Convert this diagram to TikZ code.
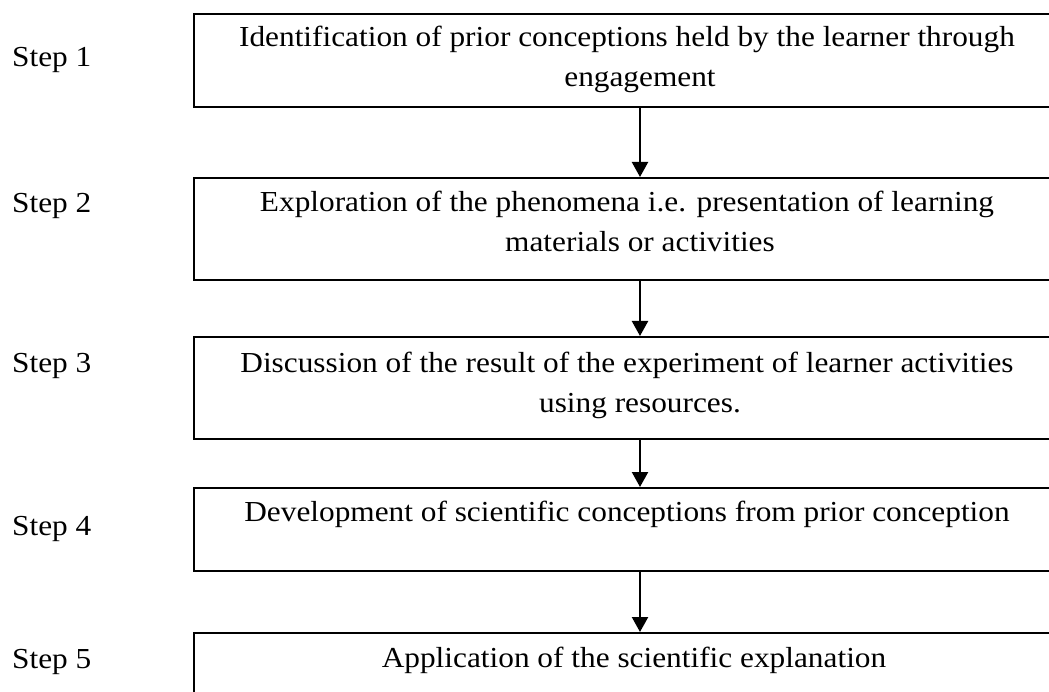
\documentclass[tikz,border=0pt]{standalone}
\usepackage{fontspec}
\setmainfont{Liberation Serif}[FakeStretch=1.08]
\usetikzlibrary{arrows.meta}
\begin{document}
\begin{tikzpicture}[x=1pt,y=-1pt,
  stepbox/.style={draw=black,line width=2pt,rectangle,inner sep=0pt,anchor=north west},
  txt/.style={font=\fontsize{29}{40}\selectfont,align=center,anchor=base,inner sep=0pt},
  lbl/.style={font=\fontsize{29}{40}\selectfont,anchor=base west,inner sep=0pt},
  arr/.style={line width=2.2pt,-{Triangle[width=16pt,length=15pt]}}]
\useasboundingbox (0,0) rectangle (1049,692);
\clip (0,0) rectangle (1049,692);
\node[stepbox,minimum width=894pt,minimum height=93pt] (b1) at (193,13) {};
\node[stepbox,minimum width=894pt,minimum height=102pt] (b2) at (193,177) {};
\node[stepbox,minimum width=894pt,minimum height=102pt] (b3) at (193,336) {};
\node[stepbox,minimum width=894pt,minimum height=83pt] (b4) at (193,487) {};
\node[stepbox,minimum width=894pt,minimum height=90pt] (b5) at (193,632) {};
\node[txt] (t1) at (640,87) {Identification of prior conceptions held by the learner through\hspace*{26pt}\\engagement};
\node[txt] (t2) at (640,252) {Exploration of the phenomena i.e. presentation of learning\hspace*{26pt}\\materials or activities};
\node[txt] (t3) at (640,412) {Discussion of the result of the experiment of learner activities\hspace*{26pt}\\using resources.};
\node[txt] (t4) at (627,521) {Development of scientific conceptions from prior conception};
\node[txt] (t5) at (634,667) {Application of the scientific explanation};
\node[lbl] (s1) at (12,67) {Step 1};
\node[lbl] (s2) at (12,213) {Step 2};
\node[lbl] (s3) at (12,373) {Step 3};
\node[lbl] (s4) at (12,535) {Step 4};
\node[lbl] (s5) at (12,668) {Step 5};
\draw[arr] ([xshift=-1pt]b1.south) -- ([xshift=-1pt]b2.north);
\draw[arr] ([xshift=-1pt]b2.south) -- ([xshift=-1pt]b3.north);
\draw[arr] ([xshift=-1pt]b3.south) -- ([xshift=-1pt]b4.north);
\draw[arr] ([xshift=-1pt]b4.south) -- ([xshift=-1pt]b5.north);
\end{tikzpicture}
\end{document}
